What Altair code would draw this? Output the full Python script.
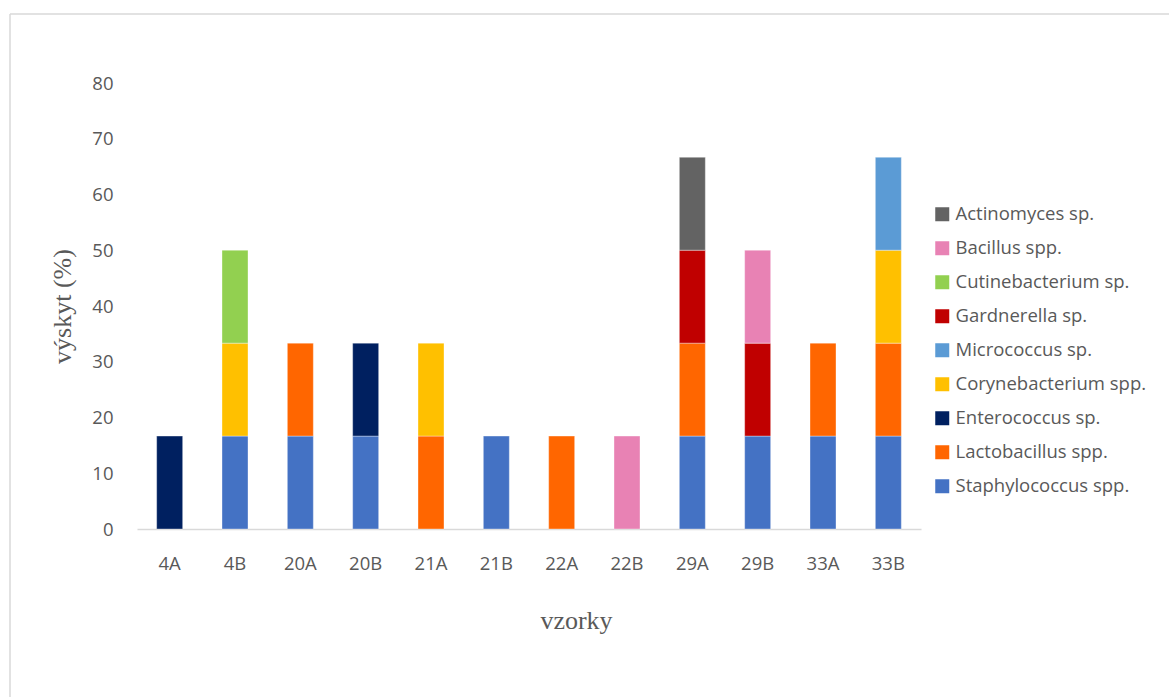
import altair as alt
import pandas as pd

# Samples on the x axis
samples = ["4A", "4B", "20A", "20B", "21A", "21B", "22A", "22B", "29A", "29B", "33A", "33B"]

# Taxa in stacking order (bottom to top)
taxa = [
    "Staphylococcus spp.",
    "Lactobacillus spp.",
    "Enterococcus sp.",
    "Corynebacterium spp.",
    "Micrococcus sp.",
    "Gardnerella sp.",
    "Cutinebacterium sp.",
    "Bacillus spp.",
    "Actinomyces sp.",
]
colors = [
    "#4472C4",
    "#FF6600",
    "#002060",
    "#FFC000",
    "#5B9BD5",
    "#C00000",
    "#92D050",
    "#E882B4",
    "#636363",
]

# Occurrence (%) of each taxon per sample, one list per taxon
staphylococcus = [0, 16.67, 16.67, 16.67, 0, 16.67, 0, 0, 16.67, 16.67, 16.67, 16.67]
lactobacillus = [0, 0, 16.67, 0, 16.67, 0, 16.67, 0, 16.67, 0, 16.67, 16.67]
enterococcus = [16.67, 0, 0, 16.67, 0, 0, 0, 0, 0, 0, 0, 0]
corynebacterium = [0, 16.67, 0, 0, 16.67, 0, 0, 0, 0, 0, 0, 16.67]
micrococcus = [0, 0, 0, 0, 0, 0, 0, 0, 0, 0, 0, 16.67]
gardnerella = [0, 0, 0, 0, 0, 0, 0, 0, 16.67, 16.67, 0, 0]
cutinebacterium = [0, 16.67, 0, 0, 0, 0, 0, 0, 0, 0, 0, 0]
bacillus = [0, 0, 0, 0, 0, 0, 0, 16.67, 0, 16.67, 0, 0]
actinomyces = [0, 0, 0, 0, 0, 0, 0, 0, 16.67, 0, 0, 0]

series = [
    staphylococcus, lactobacillus, enterococcus, corynebacterium, micrococcus,
    gardnerella, cutinebacterium, bacillus, actinomyces,
]

rows = []
for k, (name, vals) in enumerate(zip(taxa, series)):
    for s, v in zip(samples, vals):
        if v > 0:
            rows.append({"vzorka": s, "taxon": name, "hodnota": v, "poradi": k})
df = pd.DataFrame(rows)

# Legend lists the taxa top-down in reverse stacking order
legend_order = taxa[::-1]
legend_colors = colors[::-1]

LABEL_FONT = "Open Sans"
TITLE_FONT = "Liberation Serif"
GREY = "#595959"

W, H = 784, 446
PAD_L, PAD_T = 137, 83

bars = alt.Chart(df).mark_bar(size=26, stroke="white", strokeWidth=0.6, strokeOpacity=0.6).encode(
    x=alt.X(
        "vzorka:N",
        sort=samples,
        scale=alt.Scale(paddingInner=0, paddingOuter=0),
        axis=alt.Axis(
            title="vzorky",
            labelAngle=0,
            labelFont=LABEL_FONT,
            labelFontSize=18.5,
            labelColor=GREY,
            labelPadding=25,
            ticks=False,
            tickSize=0,
            domainColor="#D9D9D9",
            domainWidth=1.5,
            titleFont=TITLE_FONT,
            titleFontSize=26,
            titleFontWeight="normal",
            titleColor=GREY,
            titleX=439,
            titleY=99,
            titleAlign="center",
            titleBaseline="alphabetic",
        ),
    ),
    y=alt.Y(
        "hodnota:Q",
        stack="zero",
        scale=alt.Scale(domain=[0, 80], nice=False),
        axis=alt.Axis(
            title="výskyt (%)",
            values=[0, 10, 20, 30, 40, 50, 60, 70, 80],
            grid=False,
            domain=False,
            ticks=False,
            tickSize=0,
            labelFont=LABEL_FONT,
            labelFontSize=18.5,
            labelColor=GREY,
            labelPadding=24,
            titleFont=TITLE_FONT,
            titleFontSize=26,
            titleFontWeight="normal",
            titleColor=GREY,
            titleAngle=270,
            titleX=-75,
            titleY=H / 2,
            titleAlign="center",
            titleBaseline="middle",
        ),
    ),
    color=alt.Color(
        "taxon:N",
        scale=alt.Scale(domain=legend_order, range=legend_colors),
        legend=alt.Legend(
            title=None,
            orient="none",
            legendX=796,
            legendY=122,
            symbolType="square",
            symbolSize=196,
            symbolStrokeWidth=0,
            labelFont=LABEL_FONT,
            labelFontSize=18.5,
            labelColor=GREY,
            labelOffset=4,
            labelLimit=400,
            rowPadding=15,
            padding=0,
        ),
    ),
    order=alt.Order("poradi:Q", sort="ascending"),
)

# Light frame around the chart area (top and left edges fall inside the page)
frame_src = pd.DataFrame({"f": [0]})
frame_top = alt.Chart(frame_src).mark_rule(color="#D9D9D9", strokeWidth=1.5).encode(
    x=alt.value(10 - PAD_L), x2=alt.value(1169 - PAD_L + 20), y=alt.value(14 - PAD_T)
)
frame_left = alt.Chart(frame_src).mark_rule(color="#D9D9D9", strokeWidth=1.5).encode(
    x=alt.value(10 - PAD_L), y=alt.value(14 - PAD_T), y2=alt.value(697 - PAD_T + 20)
)

chart = alt.layer(frame_top, frame_left, bars).properties(
    width=W,
    height=H,
    autosize=alt.AutoSizeParams(type="none"),
    padding={"left": PAD_L, "top": PAD_T, "right": 1169 - PAD_L - W, "bottom": 697 - PAD_T - H},
    background="white",
).configure_view(stroke=None)

chart.save("out.html", embed_options={"renderer": "svg", "actions": False})
